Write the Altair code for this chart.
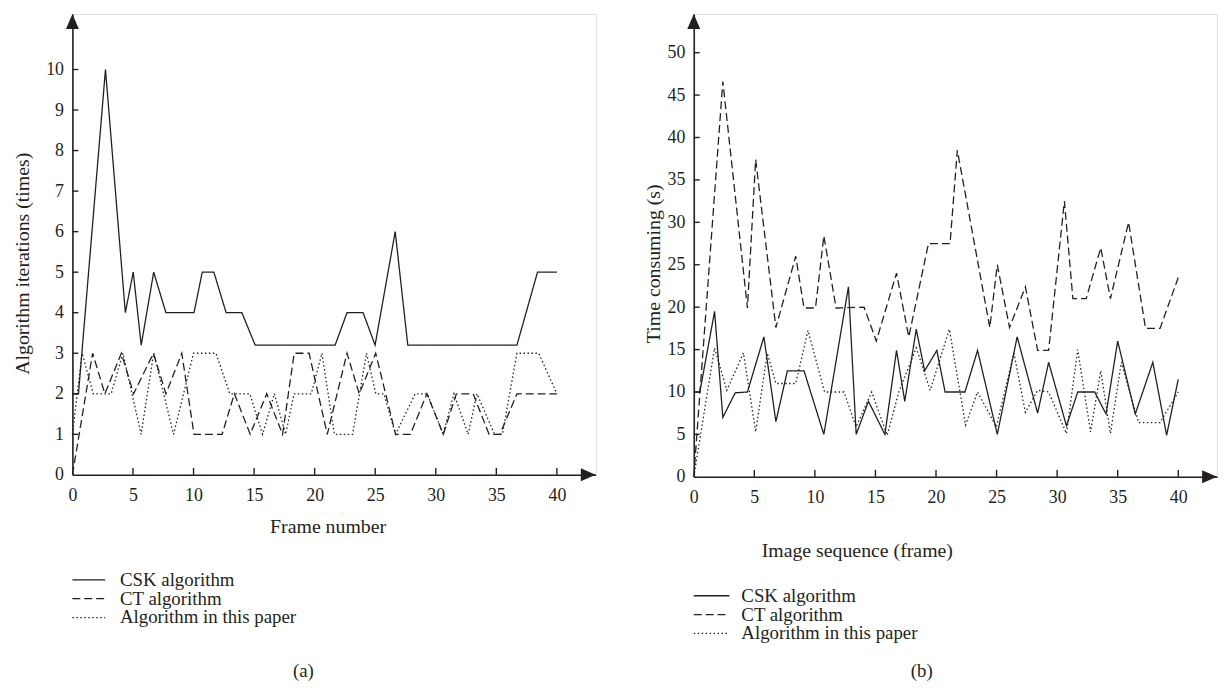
import altair as alt
import pandas as pd

FONT = "Liberation Serif"
INK = "#231f20"

# ---------------- panel (a): iterations ----------------
a_csk_x = [0, 0.5, 2.73, 4.37, 5.02, 5.68, 6.71, 7.72, 10.04, 10.72, 11.68, 12.69, 13.99, 15.09,
           21.69, 22.67, 24.0, 24.99, 26.65, 27.69, 36.7, 38.4, 40]
a_csk_y = [2, 2, 10, 4, 5, 3.2, 5, 4, 4, 5, 5, 4, 4, 3.2, 3.2, 4, 4, 3.2, 6, 3.2, 3.2, 5, 5]

a_ct_x = [0, 1.67, 2.68, 4.04, 5.05, 6.69, 7.72, 9.03, 10.04, 12.36, 13.37, 14.68, 16.04, 17.35,
          18.31, 19.54, 21.04, 22.67, 23.68, 25.04, 26.68, 27.9, 29.27, 30.62, 31.7, 33.08, 34.4,
          35.3, 36.7, 40]
a_ct_y = [0, 3, 2, 3, 2, 3, 2, 3, 1, 1, 2, 1, 2, 1, 3, 3, 1, 3, 2, 3, 1, 1, 2, 1, 2, 2, 1, 1, 2, 2]

a_pr_x = [0, 0.8, 1.72, 3.2, 4.17, 5.67, 6.71, 8.35, 10.0, 11.85, 13.0, 14.64, 15.7, 16.67, 17.6,
          18.3, 19.72, 20.6, 21.63, 23.13, 24.28, 25.05, 25.72, 26.68, 28.3, 29.3, 30.6, 31.5,
          32.67, 33.4, 34.85, 35.5, 36.7, 38.5, 40]
a_pr_y = [1, 3, 2, 2, 3, 1, 3, 1, 3, 3, 2, 2, 1, 2, 1, 2, 2, 3, 1, 1, 3, 2, 2, 1, 2, 2, 1, 2,
          1, 2, 1, 1, 3, 3, 2]

# ---------------- panel (b): time ----------------
b_csk_x = [0, 0.5, 1.72, 2.4, 3.42, 4.43, 5.79, 6.78, 7.73, 9.1, 10.74, 12.77, 13.41, 14.42, 15.78,
           16.74, 17.42, 18.37, 19.06, 20.07, 20.75, 22.39, 23.43, 25.06, 26.7, 28.39, 29.3, 30.77,
           31.7, 33.1, 34.04, 35.0, 36.45, 37.9, 39.04, 40]
b_csk_y = [10, 10, 19.5, 7.0, 9.9, 10, 16.5, 6.5, 12.5, 12.5, 5.0, 22.4, 5.0, 8.9, 5.0, 14.9, 8.9,
           17.4, 12.5, 14.9, 10, 10, 14.9, 5.0, 16.5, 7.5, 13.5, 6.0, 10, 10, 7.4, 16, 7.4, 13.5,
           4.9, 11.5]

b_ct_x = [0, 2.4, 4.43, 5.11, 6.78, 8.42, 9.1, 10.05, 10.74, 11.75, 14.06, 15.07, 16.74, 17.75,
          19.38, 21.16, 21.76, 24.44, 25.06, 26.07, 27.38, 28.39, 29.3, 30.6, 31.3, 32.4, 33.6,
          34.4, 35.9, 37.3, 38.5, 40]
b_ct_y = [0, 46.6, 19.9, 37.4, 17.6, 26.0, 19.9, 19.9, 28.4, 19.9, 20, 16.0, 24.0, 16.5, 27.5,
          27.5, 38.5, 17.6, 25.0, 17.6, 22.4, 14.9, 14.9, 32.5, 21, 21, 27, 21, 30, 17.5, 17.5, 23.5]

b_pr_x = [0, 1.72, 2.73, 4.1, 5.11, 6.07, 6.78, 8.42, 9.43, 10.8, 12.4, 13.4, 14.69, 15.97, 16.93,
          18.37, 19.52, 21.1, 22.44, 23.43, 24.98, 26.43, 27.38, 28.39, 29.3, 30.77, 31.7, 32.76,
          33.6, 34.4, 35.3, 36.72, 38.5, 40]
b_pr_y = [0, 15.2, 10.2, 14.6, 5.3, 14.6, 11.0, 11.0, 17.25, 10.0, 10.0, 5.9, 10.0, 4.9, 10.0,
          15.2, 10.2, 17.4, 6.1, 10.0, 5.9, 14.6, 7.6, 10.2, 10.0, 5.1, 15, 5.3, 12.5, 5.1, 13.5,
          6.4, 6.4, 10]

x_ticks = [0, 5, 10, 15, 20, 25, 30, 35, 40]
a_y_ticks = list(range(0, 11))
b_y_ticks = list(range(0, 55, 5))

series_names = ["CSK algorithm", "CT algorithm", "Algorithm in this paper"]
dashes = [[1, 0], [8, 4], [1.5, 2.5]]

W = 528
XMAX = 43.2


def panel(series, ymax, yticks, H, ytitle, xtitle, caption, ytitle_xy, xtitle_xy,
          caption_xy, legend_y, legend_dx):
    xs = alt.Scale(domain=[0, XMAX], nice=False, zero=False)
    ys = alt.Scale(domain=[0, ymax], nice=False, zero=False)
    x_axis = alt.Axis(values=x_ticks, ticks=False, grid=False, domainColor=INK, domainWidth=1.6,
                      labelFont=FONT, labelFontSize=18, labelColor=INK, labelPadding=12,
                      title=None, labelFlush=False)
    y_axis = alt.Axis(values=yticks, ticks=False, grid=False, domainColor=INK, domainWidth=1.6,
                      labelFont=FONT, labelFontSize=18, labelColor=INK, labelPadding=9,
                      title=None)

    def X(*a, **k):
        return alt.X(*a, scale=xs, axis=x_axis, **k)

    def Y(*a, **k):
        return alt.Y(*a, scale=ys, axis=y_axis, **k)

    layers = []
    for (sx, sy), name, dash in zip(series, series_names, dashes):
        df = pd.DataFrame({"x": sx, "y": sy, "i": range(len(sx))})
        layers.append(
            alt.Chart(df).mark_line(color=INK, strokeWidth=1.3, strokeDash=dash).encode(
                x=X("x:Q"), y=Y("y:Q"), order="i:O",
            )
        )
    # inward tick marks
    xt = pd.DataFrame({"v": x_ticks[1:]})
    layers.append(alt.Chart(xt).mark_rule(color=INK, strokeWidth=1.4).encode(
        x=X("v:Q"), y=alt.value(H), y2=alt.value(H - 7)))
    yt = pd.DataFrame({"v": yticks[1:]})
    layers.append(alt.Chart(yt).mark_rule(color=INK, strokeWidth=1.4).encode(
        y=Y("v:Q"), x=alt.value(0), x2=alt.value(6)))
    # arrow heads
    layers.append(alt.Chart(pd.DataFrame({"a": [0]})).mark_point(
        shape="M0,0L-2,-0.87L-2,0.87Z", filled=True, color=INK, opacity=1, size=225).encode(
        x=X(datum=XMAX), y=Y(datum=0)))
    layers.append(alt.Chart(pd.DataFrame({"a": [0]})).mark_point(
        shape="M0,0L-0.87,2L0.87,2Z", filled=True, color=INK, opacity=1, size=225).encode(
        x=X(datum=0), y=Y(datum=ymax)))
    # titles
    tdf = pd.DataFrame({"t": [ytitle]})
    layers.append(alt.Chart(tdf).mark_text(font=FONT, fontSize=20, color=INK, angle=270,
                                           align="center", baseline="middle").encode(
        text="t:N", x=alt.value(ytitle_xy[0]), y=alt.value(ytitle_xy[1])))
    tdf2 = pd.DataFrame({"t": [xtitle]})
    layers.append(alt.Chart(tdf2).mark_text(font=FONT, fontSize=20, color=INK,
                                            align="center", baseline="middle").encode(
        text="t:N", x=alt.value(xtitle_xy[0]), y=alt.value(xtitle_xy[1])))
    cdf = pd.DataFrame({"t": [caption]})
    layers.append(alt.Chart(cdf).mark_text(font=FONT, fontSize=19, color=INK,
                                           align="center", baseline="middle").encode(
        text="t:N", x=alt.value(caption_xy[0]), y=alt.value(caption_xy[1])))
    # legend
    for k, (name, dash) in enumerate(zip(series_names, dashes)):
        yy = legend_y[k]
        ldf = pd.DataFrame({"t": [name]})
        layers.append(alt.Chart(ldf).mark_rule(color=INK, strokeWidth=1.3, strokeDash=dash).encode(
            x=alt.value(legend_dx[0]), x2=alt.value(legend_dx[1]), y=alt.value(yy)))
        layers.append(alt.Chart(ldf).mark_text(font=FONT, fontSize=19, color=INK,
                                               align="left", baseline="middle").encode(
            text="t:N", x=alt.value(legend_dx[2]), y=alt.value(yy)))
    return alt.layer(*layers).properties(width=W, height=H)


Ha = 465
Hb = 467
pa = panel([(a_csk_x, a_csk_y), (a_ct_x, a_ct_y), (a_pr_x, a_pr_y)], Ha / 40.9, a_y_ticks, Ha,
           "Algorithm iterations (times)", "Frame number", "(a)",
           (-50, 252), (258, 518), (233, 663), [571, 590, 609], (0, 33, 48))
pb = panel([(b_csk_x, b_csk_y), (b_ct_x, b_ct_y), (b_pr_x, b_pr_y)], Hb / 8.56, b_y_ticks, Hb,
           "Time consuming (s)", "Image sequence (frame)", "(b)",
           (-40, 252), (165, 542), (230, 663), [587, 606, 625], (0, 36, 48))

chart = alt.hconcat(pa, pb, spacing=47).properties(
    padding={"left": 4, "top": 2, "right": 0, "bottom": 0}
).configure_view(strokeWidth=0).configure(background="white")

chart.save("out.html", embed_options={"renderer": "svg", "actions": False})
